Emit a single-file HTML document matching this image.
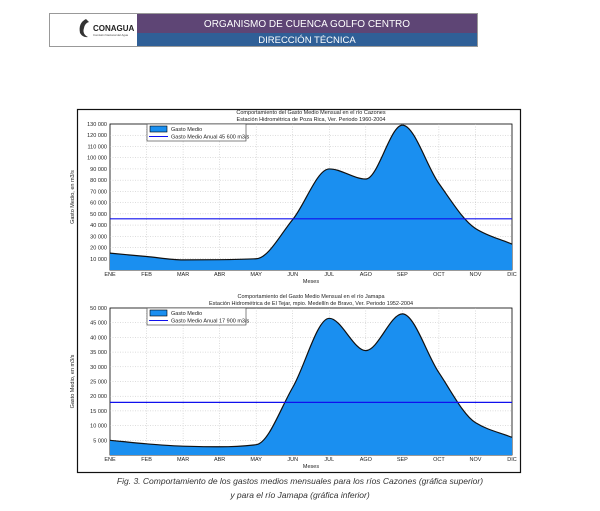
<!DOCTYPE html>
<html><head><meta charset="utf-8"><style>
body{margin:0;background:#fff;width:600px;height:506px;overflow:hidden;font-family:"Liberation Sans",sans-serif}
</style></head><body>
<svg id="s" width="600" height="506" xmlns="http://www.w3.org/2000/svg" font-family="Liberation Sans, sans-serif">
<rect x="49.5" y="13.5" width="428" height="33" fill="#fff" stroke="#999"/>
<rect x="137" y="14" width="340" height="19" fill="#5e4575"/>
<rect x="137" y="33" width="340" height="13" fill="#2f5f97"/>
<text x="307" y="27" fill="#fff" font-size="10" text-anchor="middle">ORGANISMO DE CUENCA GOLFO CENTRO</text>
<text x="307" y="43" fill="#fff" font-size="9.5" text-anchor="middle">DIRECCIÓN TÉCNICA</text>
<path d="M86 19 q-8 4 -6 14 q3 5 8 4 q-6-3-4-9 q1-5 5-6z" fill="#333"/>
<text x="93" y="31" font-size="8" font-weight="bold" fill="#222">CONAGUA</text>
<text x="93" y="36" font-size="2.8" fill="#444">Comisión Nacional del Agua</text>
<rect x="77.5" y="109.5" width="443" height="363" fill="#fff" stroke="#111" stroke-width="1.2"/>
<g id="g1"></g><g id="g2"></g>
<text x="300" y="484" font-size="8.5" font-style="italic" fill="#333" text-anchor="middle">Fig. 3. Comportamiento de los gastos medios mensuales para los ríos Cazones (gráfica superior)</text>
<text x="300" y="498" font-size="8.5" font-style="italic" fill="#333" text-anchor="middle">y para el río Jamapa (gráfica inferior)</text>
</svg>
<script>
const M=["ENE","FEB","MAR","ABR","MAY","JUN","JUL","AGO","SEP","OCT","NOV","DIC"];
function chart(id,top,bot,maxv,step,vals,annual,t1,t2,leg,fmt){
 const L=110,R=512,g=document.getElementById(id);let h="";
 const X=i=>L+(R-L)*i/11, Y=v=>bot-(bot-top)*v/maxv;
 h+=`<rect x="${L}" y="${top}" width="${R-L}" height="${bot-top}" fill="#fff" stroke="#000" stroke-width="0.8"/>`;
 for(let v=step;v<maxv;v+=step)h+=`<line x1="${L}" x2="${R}" y1="${Y(v)}" y2="${Y(v)}" stroke="#bbb" stroke-width="0.5" stroke-dasharray="1,1.5"/>`;
 for(let i=1;i<11;i++)h+=`<line x1="${X(i)}" x2="${X(i)}" y1="${top}" y2="${bot}" stroke="#bbb" stroke-width="0.5" stroke-dasharray="1,1.5"/>`;
 const p=vals.map((v,i)=>[X(i),Y(v)]);const n=12,dx=X(1)-X(0);
 const del=[];for(let i=0;i<11;i++)del.push((p[i+1][1]-p[i][1])/dx);
 const m=[];m[0]=del[0];m[11]=del[10];
 for(let i=1;i<11;i++){ if(del[i-1]*del[i]<=0)m[i]=0; else {m[i]=2/(1/del[i-1]+1/del[i]);}}
 let d=`M${p[0][0]},${p[0][1]}`;
 for(let i=0;i<11;i++){const b=p[i],c=p[i+1];
  d+=` C${b[0]+dx/3},${b[1]+m[i]*dx/3} ${c[0]-dx/3},${c[1]-m[i+1]*dx/3} ${c[0]},${c[1]}`;}
 h+=`<path d="${d} L${R},${bot} L${L},${bot}Z" fill="#1a8ff0"/><path d="${d}" fill="none" stroke="#111" stroke-width="1.2"/>`;
 h+=`<line x1="${L}" x2="${R}" y1="${Y(annual)}" y2="${Y(annual)}" stroke="#1010ee" stroke-width="1.2"/>`;
 for(let v=step;v<=maxv;v+=step)h+=`<text x="${L-3}" y="${Y(v)+2}" font-size="5.5" text-anchor="end" fill="#222">${fmt(v)}</text>`;
 M.forEach((m,i)=>h+=`<text x="${X(i)}" y="${bot+6}" font-size="5.5" text-anchor="middle" fill="#222">${m}</text>`);
 h+=`<text x="311" y="${bot+13}" font-size="5.5" text-anchor="middle" fill="#222">Meses</text>`;
 h+=`<text x="311" y="${top-10}" font-size="5.5" text-anchor="middle" fill="#222">${t1}</text><text x="311" y="${top-3}" font-size="5.5" text-anchor="middle" fill="#222">${t2}</text>`;
 const cy=(top+bot)/2;h+=`<text transform="translate(${L-36},${cy}) rotate(-90)" font-size="5.5" text-anchor="middle" fill="#222">Gasto Medio,  en m3/s</text>`;
 h+=`<rect x="147" y="${top}" width="99" height="17" fill="#fff" stroke="#333" stroke-width="0.6"/><rect x="150" y="${top+2}" width="17" height="6" fill="#1a8ff0" stroke="#000" stroke-width="0.6"/>`;
 h+=`<line x1="149" x2="168" y1="${top+12.5}" y2="${top+12.5}" stroke="#1010ee" stroke-width="1"/>`;
 h+=`<text x="171" y="${top+7}" font-size="5.5" fill="#222">Gasto Medio</text><text x="171" y="${top+14.5}" font-size="5.5" fill="#222">${leg}</text>`;
 g.innerHTML=h;}
const f=v=>{const s=String(v);return s.length>3?s.slice(0,-3)+" "+s.slice(-3):s};
chart("g1",124,270,130000,10000,[15000,12000,9000,9200,10000,45000,90000,81000,129000,77000,37000,23000],45600,
 "Comportamiento del Gasto Medio Mensual en el río Cazones","Estación Hidrométrica de Poza Rica, Ver. Periodo 1960-2004","Gasto Medio Anual 45 600 m3/s",f);
chart("g2",308,455,50000,5000,[5000,3800,3000,2800,3500,23000,46500,35500,48000,28000,11000,6000],17900,
 "Comportamiento del Gasto Medio Mensual en el río Jamapa","Estación Hidrométrica de El Tejar, mpio. Medellín de Bravo, Ver. Periodo 1952-2004","Gasto Medio Anual 17 900 m3/s",f);
</script>
</body></html>
